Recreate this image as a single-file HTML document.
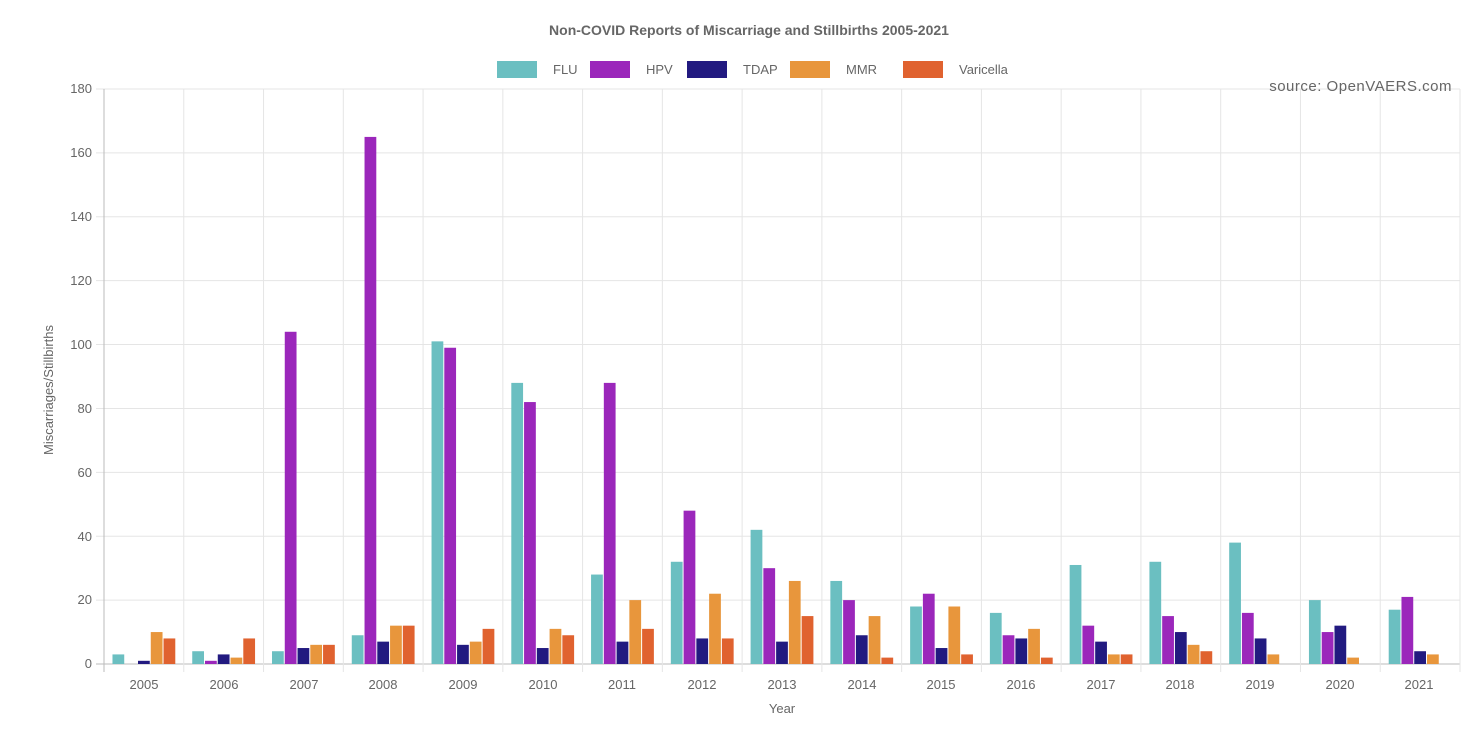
<!DOCTYPE html>
<html><head><meta charset="utf-8"><style>
body{margin:0;background:#fff;}
svg text{font-family:"Liberation Sans",Arial,sans-serif;fill:#666;}
</style></head><body>
<svg id="s" width="1484" height="724" xmlns="http://www.w3.org/2000/svg">
<g id="grid"></g>
<g id="bars"></g>
<text x="749" y="35" text-anchor="middle" font-size="14" font-weight="bold">Non-COVID Reports of Miscarriage and Stillbirths 2005-2021</text>
<rect x="497" y="61" width="40" height="17" fill="#6bbfc1"/><text x="553" y="74" font-size="13">FLU</text>
<rect x="590" y="61" width="40" height="17" fill="#9b27bb"/><text x="646" y="74" font-size="13">HPV</text>
<rect x="687" y="61" width="40" height="17" fill="#221a80"/><text x="743" y="74" font-size="13">TDAP</text>
<rect x="790" y="61" width="40" height="17" fill="#e8963c"/><text x="846" y="74" font-size="13">MMR</text>
<rect x="903" y="61" width="40" height="17" fill="#e0622f"/><text x="959" y="74" font-size="13">Varicella</text>
<text x="1452" y="91" text-anchor="end" font-size="15" letter-spacing="0.5">source: OpenVAERS.com</text>
<g font-size="13" text-anchor="end">
<text x="92" y="93">180</text><text x="92" y="157">160</text><text x="92" y="221">140</text><text x="92" y="285">120</text><text x="92" y="349">100</text><text x="92" y="413">80</text><text x="92" y="477">60</text><text x="92" y="541">40</text><text x="92" y="604">20</text><text x="92" y="668">0</text>
</g>
<g font-size="13" text-anchor="middle">
<text x="144" y="689">2005</text><text x="224" y="689">2006</text><text x="304" y="689">2007</text><text x="383" y="689">2008</text><text x="463" y="689">2009</text><text x="543" y="689">2010</text><text x="622" y="689">2011</text><text x="702" y="689">2012</text><text x="782" y="689">2013</text><text x="862" y="689">2014</text><text x="941" y="689">2015</text><text x="1021" y="689">2016</text><text x="1101" y="689">2017</text><text x="1180" y="689">2018</text><text x="1260" y="689">2019</text><text x="1340" y="689">2020</text><text x="1419" y="689">2021</text>
</g>
<text x="782" y="713" text-anchor="middle" font-size="13">Year</text>
<text transform="translate(53,390) rotate(-90)" text-anchor="middle" font-size="13">Miscarriages/Stillbirths</text>
</svg>
<script>
var ns="http://www.w3.org/2000/svg";
function el(p,t,a){var e=document.createElementNS(ns,t);for(var k in a)e.setAttribute(k,a[k]);document.getElementById(p).appendChild(e);}
var L=104,R=1460,T=89,B=664,cw=(R-L)/17,u=(B-T)/180;
for(var i=0;i<=9;i++){var y=T+i*(B-T)/9;el("grid","line",{x1:96,x2:R,y1:y,y2:y,stroke:i==9?"#bbb":"#e5e5e5","stroke-width":1});}
for(var i=0;i<=17;i++){var x=L+i*cw;el("grid","line",{x1:x,x2:x,y1:T,y2:672,stroke:i==0?"#bbb":"#e5e5e5","stroke-width":1});}
var d=[[3,0,1,10,8],[4,1,3,2,8],[4,104,5,6,6],[9,165,7,12,12],[101,99,6,7,11],[88,82,5,11,9],[28,88,7,20,11],[32,48,8,22,8],[42,30,7,26,15],[26,20,9,15,2],[18,22,5,18,3],[16,9,8,11,2],[31,12,7,3,3],[32,15,10,6,4],[38,16,8,3,0],[20,10,12,2,0],[17,21,4,3,0]];
var c=["#6bbfc1","#9b27bb","#221a80","#e8963c","#e0622f"];
var bw=cw*0.8/5;
d.forEach(function(g,i){g.forEach(function(v,j){if(!v)return;var x=L+i*cw+cw*0.1+j*bw+0.5;el("bars","rect",{x:x,y:B-v*u,width:bw-1,height:v*u,fill:c[j]});});});
</script>
</body></html>
